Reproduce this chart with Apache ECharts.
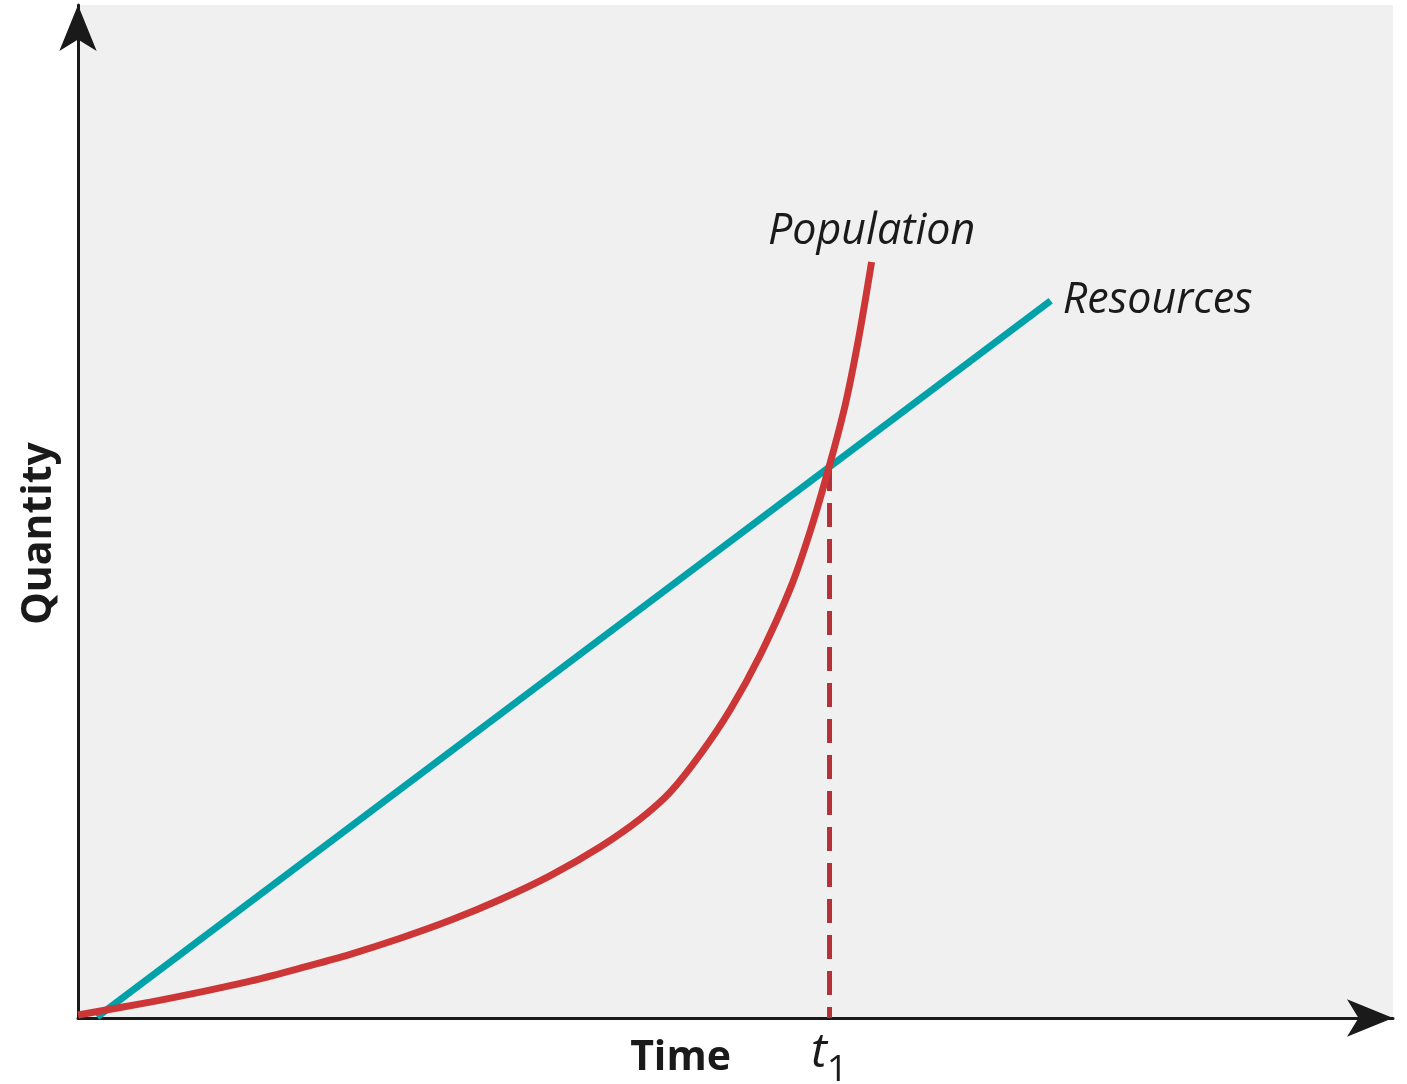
<!DOCTYPE html>
<html>
<head>
<meta charset="utf-8">
<script src="https://cdn.jsdelivr.net/npm/echarts@6/dist/echarts.min.js"></script>
<style>
html,body{margin:0;padding:0;background:#fff;}
#main{width:1407px;height:1084px;}
</style>
</head>
<body>
<div id="main"></div>
<script>
// Population curve (time, quantity)
const populationX = [0, 5.48, 9.28, 13.09, 16.89, 20.70, 24.51, 28.31, 32.12, 35.92, 39.73, 42.77, 45.05, 47.34, 49.62, 51.90, 54.19, 55.71, 57.15, 58.37, 59.36, 60.35];
const populationY = [0.29, 1.57, 2.56, 3.64, 4.92, 6.29, 7.87, 9.64, 11.70, 14.06, 16.91, 19.67, 22.32, 26.06, 30.48, 35.89, 42.48, 48.18, 54.57, 60.67, 67.06, 74.63];
// Resources line (time, quantity)
const resourcesX = [1.45, 73.97];
const resourcesY = [0.1, 70.8];
// t1 marker (time where curves cross)
const t1X = [57.15, 57.15];
const t1Y = [54.4, 0];
const seriesNames = ['Population', 'Resources'];
const axisNames = ['Time', 'Quantity'];

function pairs(xs, ys) { return xs.map((x, i) => [x, ys[i]]); }

const popData = pairs(populationX, populationY).map((p, i, a) => i === a.length - 1 ?
  {value: p, label: {show: true, position: 'top', distance: 9, formatter: seriesNames[0]}} : p);
const resData = pairs(resourcesX, resourcesY).map((p, i, a) => i === a.length - 1 ?
  {value: p, label: {show: true, position: 'right', distance: 12, formatter: seriesNames[1]}} : p);
const t1Data = pairs(t1X, t1Y).map((p, i, a) => i === a.length - 1 ?
  {value: p, label: {show: true, position: 'bottom', distance: 11, formatter: '{t|t}{s|1}'}} : p);

const labelFont = {fontFamily: 'Open Sans', fontStyle: 'italic', fontSize: 43, color: '#1a1a1a'};

const chart = echarts.init(document.getElementById('main'), null, {renderer: 'canvas'});
chart.setOption({
  animation: false,
  backgroundColor: '#ffffff',
  grid: {left: 78, right: 14, top: 5, bottom: 62, show: true, backgroundColor: '#f0f0f0', borderWidth: 0},
  xAxis: {
    type: 'value', min: 0, max: 100,
    name: axisNames[0], nameLocation: 'middle', nameGap: 20,
    nameTextStyle: {fontFamily: 'Open Sans', fontWeight: 'bold', fontSize: 41, color: '#1a1a1a', padding: [0, 110, 0, 0]},
    axisLine: {show: true, onZero: false, symbol: ['none', 'arrow'], symbolSize: [28, 46], symbolOffset: [0, 0],
      lineStyle: {color: '#1a1a1a', width: 3}},
    axisTick: {show: false}, axisLabel: {show: false}, splitLine: {show: false}
  },
  yAxis: {
    type: 'value', min: 0, max: 100,
    name: axisNames[1], nameLocation: 'middle', nameGap: 18,
    nameTextStyle: {fontFamily: 'Open Sans', fontWeight: 'bold', fontSize: 41, color: '#1a1a1a', padding: [0, 44, 0, 0]},
    axisLine: {show: true, onZero: false, symbol: ['none', 'arrow'], symbolSize: [28, 46], symbolOffset: [0, 0],
      lineStyle: {color: '#1a1a1a', width: 3}},
    axisTick: {show: false}, axisLabel: {show: false}, splitLine: {show: false}
  },
  series: [
    {
      name: seriesNames[1], type: 'line', data: resData, clip: false,
      symbol: 'circle', symbolSize: 0, smooth: false,
      lineStyle: {color: '#00a1a9', width: 7},
      itemStyle: {color: '#00a1a9'},
      label: labelFont, z: 3
    },
    {
      name: seriesNames[0], type: 'line', data: popData, clip: false,
      symbol: 'circle', symbolSize: 0, smooth: 0.3,
      lineStyle: {color: '#cc3636', width: 7},
      itemStyle: {color: '#cc3636'},
      label: labelFont, z: 4
    },
    {
      name: 't1', type: 'line', data: t1Data, clip: false,
      symbol: 'circle', symbolSize: 0,
      lineStyle: {color: '#b5313a', width: 5, type: [24, 12]},
      itemStyle: {color: '#b5313a'},
      label: {
        color: '#1a1a1a',
        rich: {
          t: {fontFamily: 'Open Sans', fontStyle: 'italic', fontSize: 48, padding: [0, 0, 12, 0], color: '#1a1a1a'},
          s: {fontFamily: 'Open Sans', fontSize: 37, verticalAlign: 'bottom', color: '#1a1a1a'}
        }
      },
      z: 2
    }
  ]
});
</script>
</body>
</html>
